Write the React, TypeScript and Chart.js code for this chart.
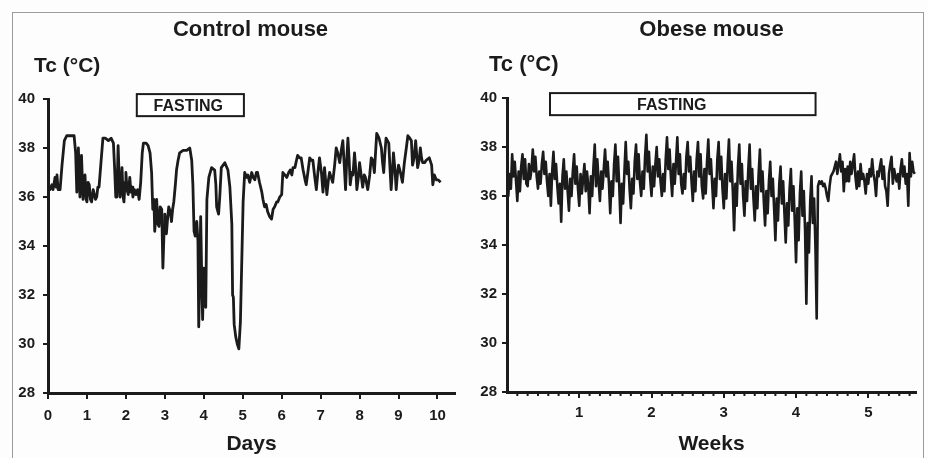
import React, { useEffect, useRef } from "react";
import { Chart, registerables } from "chart.js";

Chart.register(...registerables);

const FONT = '"Liberation Sans", Arial, Helvetica, sans-serif';
const INK = "#1b1b1b";

// ---------- Control mouse (x in days) ----------
const controlDays = [
  0.0, 0.05, 0.1, 0.13, 0.18, 0.21, 0.23, 0.26, 0.31, 0.36, 0.42, 0.48, 0.58, 0.67, 0.71, 0.74, 0.78, 0.8, 0.82, 0.86,
  0.9, 0.93, 0.95, 0.98, 1.0, 1.03, 1.06, 1.09, 1.12, 1.16, 1.19, 1.22, 1.25, 1.28, 1.31, 1.36, 1.41, 1.47, 1.55, 1.62,
  1.68, 1.71, 1.74, 1.77, 1.8, 1.83, 1.85, 1.88, 1.9, 1.93, 1.95, 1.98, 2.0, 2.03, 2.06, 2.1, 2.13, 2.16, 2.18, 2.22,
  2.26, 2.3, 2.34, 2.38, 2.42, 2.45, 2.52, 2.57, 2.62, 2.66, 2.69, 2.72, 2.74, 2.77, 2.79, 2.82, 2.85, 2.88, 2.92, 2.95,
  2.98, 3.0, 3.04, 3.07, 3.1, 3.14, 3.17, 3.2, 3.23, 3.27, 3.3, 3.34, 3.38, 3.47, 3.56, 3.64, 3.69, 3.72, 3.75, 3.78,
  3.82, 3.85, 3.87, 3.9, 3.92, 3.95, 3.97, 4.0, 4.02, 4.05, 4.08, 4.13, 4.2, 4.28, 4.31, 4.33, 4.38, 4.41, 4.45, 4.54,
  4.62, 4.67, 4.72, 4.74, 4.76, 4.78, 4.82, 4.86, 4.9, 4.94, 4.97, 5.01, 5.05, 5.1, 5.13, 5.18, 5.23, 5.27, 5.31, 5.35,
  5.38, 5.43, 5.49, 5.52, 5.56, 5.6, 5.64, 5.69, 5.74, 5.78, 5.82, 5.87, 5.9, 5.95, 6.0, 6.03, 6.08, 6.13, 6.18, 6.22,
  6.26, 6.29, 6.34, 6.38, 6.41, 6.46, 6.5, 6.55, 6.6, 6.63, 6.68, 6.72, 6.76, 6.8, 6.85, 6.89, 6.93, 6.97, 7.02, 7.06,
  7.1, 7.16, 7.2, 7.23, 7.27, 7.31, 7.36, 7.4, 7.44, 7.49, 7.53, 7.57, 7.61, 7.64, 7.67, 7.7, 7.73, 7.76, 7.8, 7.83,
  7.87, 7.9, 7.93, 7.97, 8.0, 8.04, 8.08, 8.12, 8.15, 8.21, 8.26, 8.3, 8.34, 8.38, 8.41, 8.44, 8.5, 8.56, 8.59, 8.62,
  8.65, 8.68, 8.75, 8.78, 8.81, 8.84, 8.87, 8.91, 8.94, 8.97, 9.0, 9.05, 9.1, 9.15, 9.2, 9.24, 9.29, 9.33, 9.36, 9.4,
  9.44, 9.49, 9.53, 9.56, 9.59, 9.62, 9.67, 9.71, 9.79, 9.85, 9.88, 9.92, 9.97, 10.02, 10.08,
];
const controlTc = [
  36.4, 36.3, 36.5, 36.3, 36.8, 36.4, 36.9, 36.3, 36.3, 37.3, 38.3, 38.5, 38.5, 38.5, 37.8, 36.2, 38.0, 37.0, 36.0, 37.7,
  35.9, 36.8, 36.9, 35.9, 35.8, 36.6, 36.5, 35.9, 35.8, 36.3, 36.1, 35.9, 36.0, 36.4, 36.4, 37.4, 38.4, 38.4, 38.3, 38.4,
  38.2, 37.2, 36.0, 36.0, 38.1, 36.7, 36.0, 36.5, 37.2, 36.0, 35.8, 36.6, 37.0, 36.3, 36.1, 36.8, 36.2, 36.4, 36.0, 36.3,
  36.1, 36.3, 35.9, 36.6, 37.8, 38.2, 38.2, 38.1, 37.8, 37.0, 35.5, 35.9, 34.6, 35.3, 35.9, 34.9, 34.8, 35.6, 35.5, 33.1,
  34.6, 35.3, 34.5, 35.1, 35.6, 35.4, 35.0, 35.5, 35.8, 36.5, 37.1, 37.5, 37.8, 37.9, 37.9, 38.0, 37.5, 36.5, 34.6, 34.4,
  35.0, 34.2, 30.7, 33.0, 35.2, 32.5, 31.0, 33.1, 32.6, 31.5, 35.9, 36.8, 37.2, 37.1, 36.5, 35.6, 35.3, 36.0, 37.2, 37.4,
  37.1, 36.4, 34.9, 32.0, 31.9, 30.8, 30.3, 30.0, 29.8, 30.9, 33.0, 35.8, 37.0, 36.8, 36.9, 36.6, 37.0, 36.8, 36.7, 37.0,
  37.0, 36.6, 36.2, 35.9, 35.6, 35.7, 35.4, 35.2, 35.1, 35.5, 35.6, 35.8, 35.8, 36.0, 36.1, 37.0, 36.9, 36.8, 37.0, 37.1,
  36.9, 37.2, 37.2, 37.5, 37.7, 37.6, 37.6, 37.1, 36.7, 36.5, 37.1, 37.6, 37.5, 37.5, 36.8, 36.3, 37.0, 37.6, 37.0, 36.2,
  37.2, 36.1, 36.7, 37.0, 36.8, 36.6, 37.3, 38.0, 37.8, 37.4, 37.9, 38.3, 37.2, 36.3, 37.5, 38.4, 37.6, 36.5, 37.0, 36.9,
  37.8, 37.2, 36.3, 36.8, 37.4, 36.9, 36.4, 36.9, 36.8, 36.3, 36.9, 37.6, 37.5, 37.0, 37.8, 38.6, 38.4, 38.0, 37.4, 37.0,
  37.8, 38.4, 38.2, 37.2, 36.3, 37.0, 37.8, 37.1, 36.3, 36.9, 37.3, 37.0, 36.6, 37.4, 38.0, 38.5, 38.4, 38.3, 37.3, 37.6,
  38.3, 37.2, 37.5, 38.0, 37.6, 37.4, 37.4, 37.5, 37.6, 37.3, 36.5, 36.9, 36.7, 36.7, 36.6,
];
const controlXTicks = [0, 1, 2, 3, 4, 5, 6, 7, 8, 9, 10];
const controlXMax = 10.45;
const controlFasting = [2.28, 5.03];
const controlFastingLabelAt = 3.6;

// ---------- Obese mouse (sampled every 1/8 day, x shown in weeks) ----------
const obeseSampleStepDays = 1 / 8;
const obeseTc = [
  37.9, 36.0, 36.9, 36.3, 37.7, 36.8, 37.4, 36.6,
  35.8, 37.0, 36.2, 37.2, 37.7, 36.7, 37.5, 36.5,
  36.4, 37.3, 36.7, 37.1, 37.9, 37.0, 37.6, 36.8,
  36.3, 37.0, 36.5, 37.3, 37.8, 36.9, 37.4, 36.6,
  36.0, 36.9, 35.6, 37.0, 37.8, 36.7, 37.3, 36.4,
  35.7, 36.5, 34.95, 36.8, 37.5, 36.3, 37.0, 36.2,
  35.4, 36.7, 36.0, 37.0, 37.7, 36.5, 37.2, 36.3,
  35.6, 36.9, 36.1, 36.7, 37.3, 36.2, 37.0, 36.4,
  35.3, 36.8, 36.0, 37.2, 38.1, 36.4, 37.5, 36.6,
  35.8, 37.0, 36.3, 37.1, 37.9, 36.8, 37.4, 36.5,
  35.3, 36.6, 36.0, 37.3, 38.1, 36.6, 37.6, 36.4,
  34.9, 36.5, 35.7, 37.0, 38.2, 36.9, 37.4, 36.3,
  35.5, 36.7, 36.1, 37.4, 38.1, 36.7, 37.7, 36.6,
  36.0, 37.0, 36.3, 37.6, 38.5, 37.0, 37.8, 36.7,
  36.0, 37.2, 36.4, 37.3, 38.0, 36.8, 37.5, 36.6,
  36.0, 36.9, 36.2, 37.5, 38.4, 37.1, 37.9, 36.8,
  36.0, 37.3, 36.5, 37.4, 38.4, 36.9, 37.7, 36.5,
  36.1, 36.9, 36.3, 37.6, 38.2, 37.0, 37.6, 36.6,
  35.8, 37.0, 36.2, 37.5, 38.2, 36.8, 37.7, 36.4,
  35.9, 37.1, 36.1, 37.4, 38.3, 36.9, 37.5, 36.5,
  35.5, 36.7, 36.0, 37.5, 38.2, 36.7, 37.6, 36.3,
  35.5, 36.9, 35.9, 37.3, 38.3, 36.6, 37.4, 36.2,
  34.6, 36.5, 35.6, 37.2, 38.1, 36.5, 37.3, 36.0,
  35.2, 36.6, 35.8, 37.1, 38.1, 36.3, 37.1, 35.9,
  35.0, 36.4, 35.5, 36.9, 37.9, 36.2, 37.0, 35.8,
  34.8, 36.2, 35.3, 36.6, 37.4, 36.0, 36.7, 35.5,
  34.2, 35.9, 35.0, 36.5, 37.2, 35.7, 36.6, 35.3,
  34.1, 35.7, 34.8, 36.3, 37.1, 35.4, 36.4, 35.0,
  33.3, 35.5, 34.2, 36.1, 37.0, 35.2, 36.2, 34.6,
  31.6, 34.9, 33.7, 35.8, 36.8, 34.9, 35.9, 34.0,
  31.0, 36.4, 36.6, 36.5, 36.6, 36.4, 36.5, 36.3,
  36.0, 35.8, 36.4, 36.8, 36.9, 37.0, 37.2, 37.4,
  36.9, 37.3, 37.7, 37.0, 37.4, 36.2, 37.1, 36.6,
  37.2, 36.6, 37.4, 36.9, 37.3, 37.7, 36.8, 36.3,
  37.0, 36.4, 37.3, 36.7, 36.9, 36.6, 36.1, 36.9,
  36.5, 37.1, 36.8, 37.5, 36.9, 36.6, 36.0, 37.0,
  36.8, 37.2, 37.5, 36.7, 37.2, 36.4, 36.2, 35.6,
  36.9, 37.3, 37.6, 36.5, 37.1, 36.8, 36.6, 36.9,
  36.3, 37.1, 37.5, 36.8, 37.2, 36.5, 36.9, 35.6,
  37.75, 36.8, 37.4, 37.0, 36.9,
];
const obeseXTicks = [1, 2, 3, 4, 5];
const obeseMinorTickDays = [
  1, 2, 3, 4, 5, 6, 8, 9, 10, 11, 12, 13, 15, 16, 17, 18, 19, 20, 22, 23, 24, 25, 26, 27, 29, 30, 31, 32, 33, 34,
  36, 37, 38, 39,
];
const obeseXMax = 5.66;
const obeseFasting = [0.595, 4.27];
const obeseFastingLabelAt = 2.28;

// shared y axis
const yTicks = [28, 30, 32, 34, 36, 38, 40];
const yMin = 28;
const yMax = 40;
const fastingBandTc = [39.3, 40.2];

type Opts = {
  xs: number[];
  ys: number[];
  xMax: number;
  xTicks: number[];
  xTitle: string;
  yWidth: number;
  xHeight: number;
  padTop: number;
  padRight: number;
  yLabelPad: number;
  xLabelPad: number;
  lineWidth: number;
  fasting: number[];
  fastingLabelAt: number;
  minorTicks?: number[];
};

function makeChart(canvas: HTMLCanvasElement, o: Opts) {
  const fastingPlugin = {
    id: "fasting",
    afterDraw(chart: any) {
      const { ctx, scales } = chart;
      const x1 = scales.x.getPixelForValue(o.fasting[0]);
      const x2 = scales.x.getPixelForValue(o.fasting[1]);
      const yTop = scales.y.getPixelForValue(fastingBandTc[1]);
      const yBot = scales.y.getPixelForValue(fastingBandTc[0]);
      ctx.save();
      ctx.fillStyle = "#ffffff";
      ctx.fillRect(x1, yTop, x2 - x1, yBot - yTop);
      ctx.strokeStyle = INK;
      ctx.lineWidth = 2;
      ctx.strokeRect(x1, yTop, x2 - x1, yBot - yTop);
      ctx.fillStyle = INK;
      ctx.font = `bold 16px ${FONT}`;
      ctx.textAlign = "center";
      ctx.textBaseline = "middle";
      ctx.fillText("FASTING", scales.x.getPixelForValue(o.fastingLabelAt), (yTop + yBot) / 2 + 1);
      // minor ticks (days) on the weeks axis
      if (o.minorTicks) {
        const y0 = chart.chartArea.bottom;
        ctx.strokeStyle = INK;
        ctx.lineWidth = 2;
        for (const d of o.minorTicks) {
          const px = scales.x.getPixelForValue(d / 7);
          ctx.beginPath();
          ctx.moveTo(px, y0);
          ctx.lineTo(px, y0 + 4);
          ctx.stroke();
        }
      }
      ctx.restore();
    },
  };

  const tickFont = { family: FONT, size: 15, weight: "bold" as const };
  return new Chart(canvas, {
    type: "line",
    data: {
      datasets: [
        {
          data: o.xs.map((x, i) => ({ x, y: o.ys[i] })),
          borderColor: INK,
          borderWidth: o.lineWidth,
          pointRadius: 0,
          tension: 0,
          fill: false,
          borderJoinStyle: "round",
        },
      ],
    },
    options: {
      animation: false,
      responsive: false,
      devicePixelRatio: 1,
      layout: { padding: { top: o.padTop, right: o.padRight, left: 0, bottom: 0 } },
      plugins: { legend: { display: false }, tooltip: { enabled: false }, title: { display: false } },
      scales: {
        x: {
          type: "linear",
          min: 0,
          max: o.xMax,
          afterBuildTicks: (s: any) => {
            s.ticks = o.xTicks.map((v) => ({ value: v }));
          },
          afterFit: (s: any) => {
            s.height = o.xHeight;
          },
          grid: { display: true, drawOnChartArea: false, drawTicks: true, tickLength: 6, color: INK, lineWidth: 2 },
          border: { display: true, color: INK, width: 3 },
          ticks: { color: INK, font: tickFont, padding: o.xLabelPad, maxRotation: 0, autoSkip: false },
          title: {
            display: true,
            text: o.xTitle,
            color: INK,
            font: { family: FONT, size: 21, weight: "bold" },
            padding: { top: 0, bottom: 1 },
          },
        },
        y: {
          type: "linear",
          min: yMin,
          max: yMax,
          afterBuildTicks: (s: any) => {
            s.ticks = yTicks.map((v) => ({ value: v }));
          },
          afterFit: (s: any) => {
            s.width = o.yWidth;
          },
          grid: { display: true, drawOnChartArea: false, drawTicks: true, tickLength: 5, color: INK, lineWidth: 2 },
          border: { display: true, color: INK, width: 3 },
          ticks: { color: INK, font: tickFont, padding: o.yLabelPad, autoSkip: false },
        },
      },
    },
    plugins: [fastingPlugin],
  } as any);
}

const textStyle = (left: number, top: number, size: number, width?: number): React.CSSProperties => ({
  position: "absolute",
  left,
  top,
  width,
  textAlign: width ? "center" : "left",
  fontFamily: FONT,
  fontWeight: "bold",
  fontSize: size,
  lineHeight: 1,
  color: INK,
  whiteSpace: "nowrap",
});

export default function App() {
  const leftRef = useRef<HTMLCanvasElement>(null);
  const rightRef = useRef<HTMLCanvasElement>(null);

  useEffect(() => {
    const obeseWeeks = obeseTc.map((_, i) => (i * obeseSampleStepDays) / 7);
    const c1 = makeChart(leftRef.current!, {
      xs: controlDays,
      ys: controlTc,
      xMax: controlXMax,
      xTicks: controlXTicks,
      xTitle: "Days",
      yWidth: 48,
      xHeight: 65,
      padTop: 99,
      padRight: 9,
      yLabelPad: 8,
      xLabelPad: 8,
      lineWidth: 2.8,
      fasting: controlFasting,
      fastingLabelAt: controlFastingLabelAt,
    });
    const c2 = makeChart(rightRef.current!, {
      xs: obeseWeeks,
      ys: obeseTc,
      xMax: obeseXMax,
      xTicks: obeseXTicks,
      xTitle: "Weeks",
      yWidth: 43,
      xHeight: 66,
      padTop: 98,
      padRight: 12,
      yLabelPad: 5,
      xLabelPad: 6,
      lineWidth: 2.6,
      fasting: obeseFasting,
      fastingLabelAt: obeseFastingLabelAt,
      minorTicks: obeseMinorTickDays,
    });
    return () => {
      c1.destroy();
      c2.destroy();
    };
  }, []);

  return (
    <div
      style={{
        position: "fixed",
        left: 0,
        top: 0,
        width: 928,
        height: 458,
        background: "#fdfdfd",
        overflow: "hidden",
      }}
    >
      <div
        style={{
          position: "absolute",
          left: 12,
          top: 12,
          width: 912,
          height: 470,
          border: "1px solid #9c9c9c",
          boxSizing: "border-box",
        }}
      />
      <canvas ref={leftRef} width={464} height={458} style={{ position: "absolute", left: 0, top: 0 }} />
      <canvas ref={rightRef} width={464} height={458} style={{ position: "absolute", left: 464, top: 0 }} />
      <div style={textStyle(150.5, 18.4, 22, 200)}>Control mouse</div>
      <div style={textStyle(611.5, 18.4, 22, 200)}>Obese mouse</div>
      <div style={textStyle(34, 54.2, 21)}>Tc (°C)</div>
      <div style={textStyle(489, 53.4, 22)}>Tc (°C)</div>
    </div>
  );
}
